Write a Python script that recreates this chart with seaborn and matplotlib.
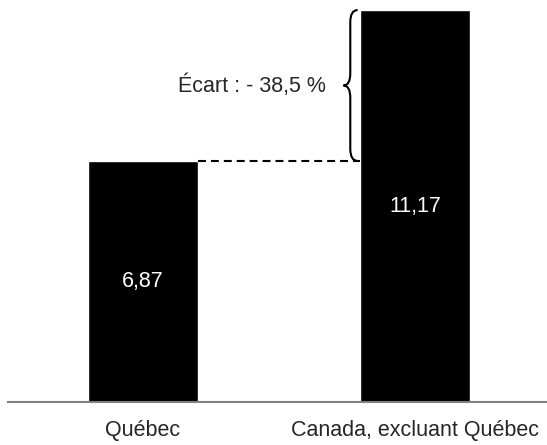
import matplotlib
matplotlib.use('Agg')
import matplotlib.pyplot as plt
from matplotlib.path import Path
from matplotlib.patches import PathPatch
import seaborn as sns
import pandas as pd

# Data
categories = ['Québec', 'Canada, excluant Québec']
values = [6.87, 11.17]
value_labels = ['6,87', '11,17']
gap_label = 'Écart : - 38,5 %'

sns.set_style('white')
plt.rcParams['font.family'] = ['Liberation Sans', 'DejaVu Sans']

fig = plt.figure(figsize=(5.47, 4.45), dpi=100)
ax = fig.add_axes([8 / 547, 43 / 445, 1 - 8 / 547, 402 / 445])

df = pd.DataFrame({'cat': categories, 'val': values})
sns.barplot(data=df, x='cat', y='val', color='black', saturation=1,
            width=0.404, ax=ax)

ax.set_xlim(-0.496, 1.485)
ax.set_ylim(0, 11.456)
ax.set_xlabel('')
ax.set_ylabel('')
ax.set_yticks([])
ax.tick_params(axis='x', length=0, pad=13, labelsize=15.5)
for side in ['top', 'left', 'right']:
    ax.spines[side].set_visible(False)
ax.spines['bottom'].set_color('#808080')
ax.spines['bottom'].set_linewidth(1.5)

# value labels inside bars
for i, (v, lab) in enumerate(zip(values, value_labels)):
    ax.text(i, v / 2, lab, color='white', ha='center', va='center', fontsize=15.5)

# dashed connector
half = 0.404 / 2
ax.plot([0 + half, 1 - half], [values[0], values[0]], color='black',
        lw=1.5, dashes=(3.8, 2.4))

# curly brace between the two levels
ytop, ybot = values[1], values[0]
ymid = (ytop + ybot) / 2
xe, xs, xt = 0.789, 0.762, 0.737
r = 0.35
verts = [
    (xe, ytop), (xs, ytop), (xs, ytop - r),
    (xs, ymid + r),
    (xs, ymid), (xt, ymid),
    (xs, ymid), (xs, ymid - r),
    (xs, ybot + r),
    (xs, ybot), (xe, ybot),
]
codes = [Path.MOVETO, Path.CURVE3, Path.CURVE3,
         Path.LINETO,
         Path.CURVE3, Path.CURVE3,
         Path.CURVE3, Path.CURVE3,
         Path.LINETO,
         Path.CURVE3, Path.CURVE3]
ax.add_patch(PathPatch(Path(verts, codes), facecolor='none', edgecolor='black', lw=1.5))

ax.text(0.673, ymid, gap_label, ha='right', va='center', fontsize=15.5)

fig.savefig('out.png', dpi=100)
